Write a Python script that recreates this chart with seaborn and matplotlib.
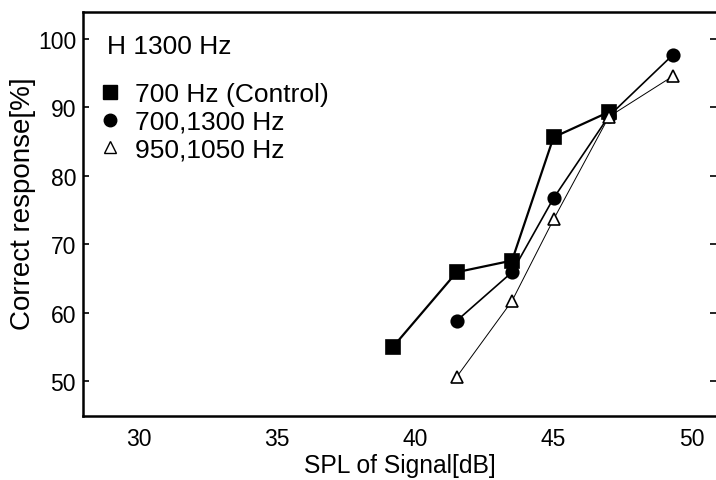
import matplotlib
matplotlib.use("Agg")
import matplotlib.pyplot as plt
from matplotlib.lines import Line2D
import seaborn as sns
import pandas as pd

sns.set_theme(style="white")
plt.rcParams['font.family'] = ['Liberation Sans', 'DejaVu Sans']
plt.rcParams['text.color'] = 'black'
plt.rcParams['axes.labelcolor'] = 'black'
plt.rcParams['xtick.color'] = 'black'
plt.rcParams['ytick.color'] = 'black'

# Data
x_control = [39.2, 41.5, 43.5, 45.0, 47.0]
y_control = [55.0, 65.9, 67.6, 85.6, 89.3]
x_700_1300 = [41.5, 43.5, 45.0, 47.0, 49.3]
y_700_1300 = [58.8, 65.9, 76.7, 88.7, 97.6]
x_950_1050 = [41.5, 43.5, 45.0, 47.0, 49.3]
y_950_1050 = [50.6, 61.7, 73.6, 88.6, 94.5]
labels = ["700 Hz (Control)", "700,1300 Hz", "950,1050 Hz"]
x_ticks = [30, 35, 40, 45, 50]
y_ticks = [50, 60, 70, 80, 90, 100]

df = pd.concat([
    pd.DataFrame({"x": x_control, "y": y_control, "s": labels[0]}),
    pd.DataFrame({"x": x_700_1300, "y": y_700_1300, "s": labels[1]}),
    pd.DataFrame({"x": x_950_1050, "y": y_950_1050, "s": labels[2]}),
])

fig = plt.figure(figsize=(7.16, 4.81), dpi=100)
ax = fig.add_axes([83/716, 64/481, 1 - 83/716, (417-13)/481])

styles = {
    labels[0]: dict(marker="s", markersize=10, lw=1.6, mfc="black"),
    labels[1]: dict(marker="o", markersize=9, lw=1.2, mfc="black"),
    labels[2]: dict(marker="^", markersize=9, lw=0.7, mfc="white"),
}
for lab in labels:
    st = styles[lab]
    sub = df[df["s"] == lab]
    sns.lineplot(data=sub, x="x", y="y", ax=ax, color="black", lw=st["lw"],
                 marker=st["marker"], markersize=st["markersize"],
                 markerfacecolor=st["mfc"], markeredgecolor="black",
                 markeredgewidth=1.2, estimator=None, sort=False, legend=False)

ax.set_xlim(28, 50.87)
ax.set_ylim(44.9, 103.9)
ax.set_xticks(x_ticks)
ax.set_yticks(y_ticks)
ax.tick_params(axis='both', direction='in', length=4, width=1.2, labelsize=16.5,
               colors='black')
ax.tick_params(axis='x', pad=8)
ax.tick_params(axis='y', right=True, left=True, pad=5)
for side in ['left', 'bottom', 'top']:
    ax.spines[side].set_color('black')
    ax.spines[side].set_linewidth(1.8)
ax.spines['right'].set_visible(False)

ax.set_xlabel("SPL of Signal[dB]", fontsize=17.7, color='black', labelpad=2)
ax.set_ylabel("Correct response[%]", fontsize=20, color='black')
ax.yaxis.set_label_coords(-0.075, 0.527)

handles = [
    Line2D([], [], ls='none', marker='s', markersize=10, mfc='black', mec='black'),
    Line2D([], [], ls='none', marker='o', markersize=9, mfc='black', mec='black'),
    Line2D([], [], ls='none', marker='^', markersize=8, mfc='white', mec='black', mew=1.0),
]
leg = ax.legend(handles, labels, title="H 1300 Hz", loc='upper left',
                bbox_to_anchor=(94/716, 1 - 22/481), bbox_transform=fig.transFigure,
                frameon=False, fontsize=19, title_fontsize=19,
                handlelength=0.2, handletextpad=0.85, labelspacing=0.15,
                borderpad=0, alignment='left')
leg._legend_box.sep = 17

fig.savefig("out.png", dpi=100)
